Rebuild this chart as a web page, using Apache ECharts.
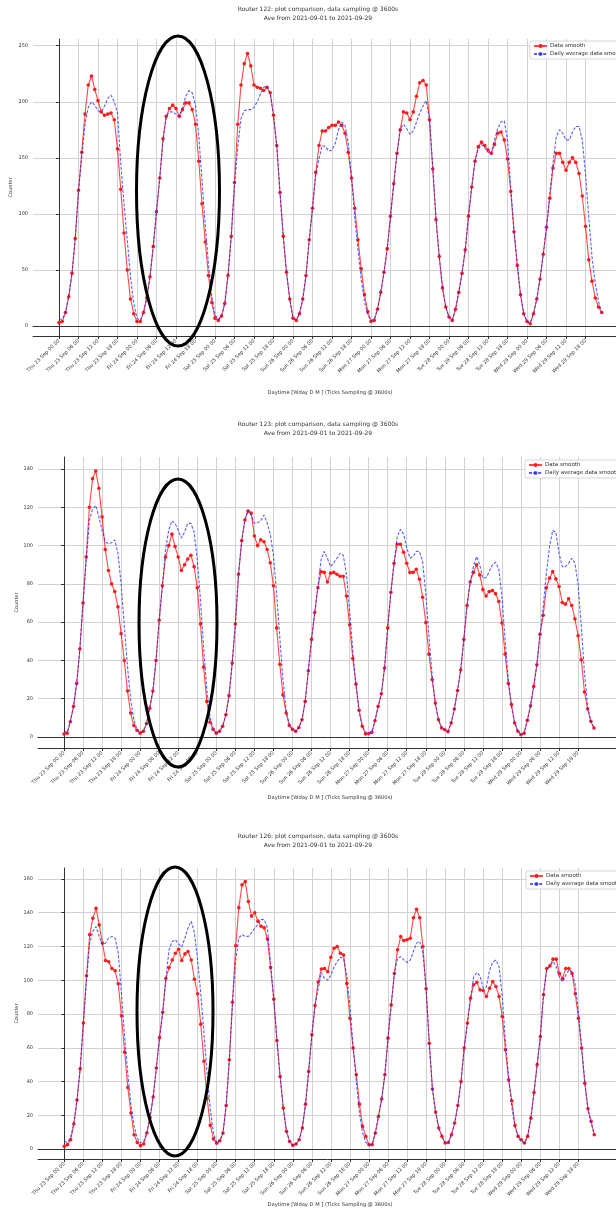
<!DOCTYPE html>
<html>
<head>
<meta charset="utf-8">
<script src="https://cdn.jsdelivr.net/npm/echarts@6/dist/echarts.min.js"></script>
<style>
  html, body { margin: 0; padding: 0; background: #fff; }
  #chart { width: 616px; height: 1211px; }
</style>
</head>
<body>
<div id="chart"></div>
<script>
// hourly samples, Thu 23 Sep 00:00 .. Wed 29 Sep 23:00
const tickHours = [0, 6, 12, 18, 24, 30, 36, 42, 48, 54, 60, 66, 72, 78, 84, 90, 96, 102, 108, 114, 120, 126, 132, 138, 144, 150, 156, 162]
const tickLabels = [
  'Thu 23 Sep 00 00', 'Thu 23 Sep 06 00', 'Thu 23 Sep 12 00', 'Thu 23 Sep 18 00',
  'Fri 24 Sep 00 00', 'Fri 24 Sep 06 00', 'Fri 24 Sep 12 00', 'Fri 24 Sep 18 00',
  'Sat 25 Sep 00 00', 'Sat 25 Sep 06 00', 'Sat 25 Sep 12 00', 'Sat 25 Sep 18 00',
  'Sun 26 Sep 00 00', 'Sun 26 Sep 06 00', 'Sun 26 Sep 12 00', 'Sun 26 Sep 18 00',
  'Mon 27 Sep 00 00', 'Mon 27 Sep 06 00', 'Mon 27 Sep 12 00', 'Mon 27 Sep 18 00',
  'Tue 28 Sep 00 00', 'Tue 28 Sep 06 00', 'Tue 28 Sep 12 00', 'Tue 28 Sep 18 00',
  'Wed 29 Sep 00 00', 'Wed 29 Sep 06 00', 'Wed 29 Sep 12 00', 'Wed 29 Sep 18 00'
]

const r122Smooth = [
  3, 4, 12, 26, 47, 78, 121, 155, 189, 215, 223, 211, 201, 191, 188, 189, 190, 184, 158, 122, 83, 50, 24, 11,
  4, 4, 12, 25, 44, 71, 102, 132, 167, 187, 194, 197, 194, 187, 193, 199, 199, 193, 180, 147, 109, 75, 45, 21,
  7, 5, 9, 20, 45, 80, 128, 180, 215, 234, 243, 232, 215, 213, 212, 210, 213, 208, 188, 161, 119, 80, 48, 24,
  7, 5, 11, 24, 45, 77, 105, 137, 161, 174, 174, 177, 179, 179, 182, 179, 172, 155, 132, 105, 77, 51, 28, 13,
  4, 5, 15, 30, 48, 69, 98, 127, 154, 175, 191, 190, 184, 191, 205, 217, 219, 215, 184, 140, 95, 62, 34, 17,
  8, 5, 15, 30, 47, 68, 98, 124, 147, 160, 164, 161, 157, 154, 162, 172, 173, 166, 149, 120, 84, 54, 28, 11,
  4, 2, 11, 24, 42, 64, 88, 114, 141, 154, 154, 146, 139, 146, 150, 146, 136, 116, 89, 59, 40, 25, 17, 12
]
const r122Daily = [
  6, 6, 12, 27, 47, 78, 120, 150, 180, 195, 200, 197, 192, 191, 196, 203, 206, 200, 190, 145, 109, 77, 44, 20,
  7, 5, 12, 25, 44, 71, 102, 132, 165, 187, 191, 191, 189, 187, 195, 205, 210, 208, 197, 170, 130, 90, 55, 27,
  10, 6, 9, 20, 45, 80, 125, 160, 185, 192, 193, 193, 195, 200, 207, 213, 214, 207, 188, 160, 119, 80, 48, 24,
  7, 6, 11, 24, 45, 77, 105, 135, 149, 161, 160, 156, 157, 163, 175, 182, 179, 163, 133, 97, 68, 41, 22, 10,
  5, 6, 15, 30, 48, 69, 98, 127, 154, 176, 180, 176, 171, 174, 182, 190, 196, 201, 185, 142, 96, 62, 34, 17,
  8, 5, 15, 30, 47, 68, 98, 124, 147, 158, 162, 159, 155, 154, 166, 176, 182, 183, 166, 124, 86, 56, 28, 11,
  4, 3, 11, 24, 42, 64, 88, 118, 145, 169, 175, 172, 166, 166, 173, 178, 178, 166, 136, 97, 62, 38, 22, 12
]

const r123Smooth = [
  1.6, 2, 8, 16, 28, 46, 70, 94, 120, 135, 139, 130, 115, 98, 87, 80, 76, 68, 54, 40, 24, 12.5, 6, 3.5,
  2, 3, 7, 15, 24, 40, 61, 79, 94, 100, 106, 99.5, 94, 87, 90, 93, 95, 89, 78, 59, 36.5, 18.6, 7.7, 4,
  2, 3, 5.6, 11.6, 21.6, 38.6, 59, 85, 102.6, 113.4, 118, 117, 105, 100, 103, 102, 98, 91, 79, 57, 38, 22, 12.5, 6,
  4, 3, 5, 9, 18.6, 34.6, 51, 65, 78, 86.4, 86, 81, 85.6, 86, 85, 84, 84, 73.7, 58.6, 41, 27.6, 14, 5.6, 1.6,
  1.7, 2.4, 8.5, 16, 22.6, 36, 57, 75.6, 90.8, 100.7, 100.7, 96.5, 90.8, 86, 86, 87.6, 82.4, 73, 59.8, 43.3, 30, 17.7, 9, 4.7,
  3.8, 2.8, 7.3, 14.6, 24.3, 35, 51, 68.7, 81, 86, 90, 84.7, 77, 73.7, 76, 76.5, 74.8, 70.8, 59.5, 43.3, 28, 16.9, 7.3, 3,
  1.2, 2, 8.7, 16.3, 26.4, 37.7, 53.7, 63.6, 78, 83, 86.4, 82.6, 78.6, 70.3, 69.4, 72.2, 68.7, 61.7, 52.9, 40.3, 23.5, 14.6, 8.2, 4.7
]
const r123Daily = [
  3, 2.4, 8, 16, 28, 46, 70, 92, 113, 119, 121, 115, 108, 102, 101, 101.5, 103, 96, 80, 58, 37, 19.5, 9, 4,
  2.4, 3, 7, 15, 24, 40, 61, 79, 98, 108, 113, 111.6, 108, 104, 107, 111.6, 111.6, 107, 92.5, 71.6, 47, 24.7, 10.8, 4,
  2, 3, 5.6, 11.6, 21.6, 38.6, 59, 85, 102.6, 113.4, 118.6, 116, 111.6, 112, 113, 116, 112, 106, 95, 75, 52, 30, 14, 6.4,
  4, 3, 5, 9, 18.6, 34.6, 51, 65, 78.6, 92.5, 97, 93.4, 89, 91, 93.4, 96, 95, 85, 66, 45, 27, 13, 5.6, 2.5,
  2.4, 2.4, 8.5, 16, 22.6, 36, 57, 75.6, 90.8, 104.7, 108.5, 106, 99, 93.4, 94.3, 97, 97, 91.6, 75, 52.5, 32.5, 17.7, 9, 5,
  3.8, 2.8, 7.3, 14.6, 24.3, 35, 51, 68.7, 81, 89, 94.3, 90, 83, 83.3, 86.4, 90, 91.3, 88, 73.4, 50.8, 30, 16, 7.3, 3.3,
  1.2, 2, 8.7, 16.3, 26.4, 37.7, 53.7, 68, 85.6, 99.5, 108, 106.8, 96, 89, 89, 90.8, 93.4, 90.8, 79.5, 57.7, 33.4, 16, 8.2, 4.7
]

const r126Smooth = [
  1.6, 2.6, 5.5, 14.8, 29, 47.5, 74.6, 102.6, 127, 136.7, 142.6, 132.8, 122, 111.7, 111, 107, 105.6, 97.9, 79, 57.4, 36.5, 21.3, 8.5, 3.9,
  2, 3, 9.5, 18.7, 30.8, 48, 66, 81, 101, 107.5, 112, 116, 118.4, 111.7, 115.6, 117, 112, 100.6, 92, 74, 52, 30, 14, 6,
  3.5, 4.9, 9.5, 25.8, 52.9, 87, 120.4, 143, 156.5, 158.4, 146.6, 138, 140, 135, 132, 131, 124.5, 107.5, 88.8, 64.3, 43, 24.3, 10.5, 4.5,
  2.2, 3, 5.5, 12.4, 26.6, 46, 67.7, 85, 99, 106.7, 107, 105, 113.6, 119, 120, 116, 115, 98, 77.5, 59.8, 44, 26.6, 13.4, 7.5,
  2.6, 2.6, 9.5, 19.3, 29.6, 44, 65.7, 85.4, 104, 118, 125.9, 123.5, 124, 124.9, 137, 142, 137, 120, 95, 62.7, 35.5, 21.9, 12.4, 7.5,
  3.6, 3.9, 8.5, 15.4, 25.8, 40, 59.8, 74.6, 89.4, 97.3, 98.8, 94.3, 93.9, 90.4, 95.3, 99.2, 96.3, 90.4, 78.5, 58.8, 41, 28.6, 14, 7.5,
  5.5, 3.6, 7.5, 18.3, 33.5, 50, 66.7, 91.4, 107, 108.5, 112.5, 112.5, 104, 101, 107, 107, 104, 92, 77.5, 59.8, 39, 23.9, 16.4, 8.5
]
const r126Daily = [
  4.5, 4, 7, 15, 29, 47.5, 74.6, 100, 122, 129, 131.8, 126, 121, 122, 125, 126, 125, 116, 92, 66.7, 45, 26, 13.4, 6.5,
  3.5, 4.5, 9.5, 18.7, 30.8, 48, 66, 81, 101, 118, 123, 124, 121.5, 119.6, 125, 131, 135, 128, 112, 92, 68.7, 45, 23.3, 9.5,
  3.5, 4.9, 9.5, 25.8, 52.9, 87, 112, 125, 127, 126, 126, 128, 131, 133, 136, 136, 131, 110, 89, 64.3, 43, 24.3, 10.5, 4.5,
  2.2, 3, 5.5, 12.4, 26.6, 46, 67.7, 85, 95, 104.6, 101, 100, 103, 108, 111, 113.6, 113, 103, 84.4, 60.8, 40, 21.3, 9.5, 4,
  2.6, 2.6, 9.5, 19.3, 29.6, 44, 65.7, 85.4, 104, 113, 114, 112, 110.5, 112, 117, 122, 123, 116, 95, 62.7, 35.5, 21.9, 12.4, 7.5,
  3.6, 3.9, 8.5, 15.4, 25.8, 40, 59.8, 74.6, 89.4, 102, 104.6, 102.6, 95.3, 96, 106, 110.7, 112, 108, 90.4, 63.7, 43, 25, 13.4, 6.5,
  4.5, 3.6, 7.5, 18.3, 33.5, 50, 66.7, 92.3, 106, 108.5, 111, 108, 102, 99, 103, 106, 105, 97, 81.5, 60.8, 40, 23.3, 15.4, 8.5
]

const yTicks122 = [0, 50, 100, 150, 200, 250]
const yTicks123 = [0, 20, 40, 60, 80, 100, 120, 140]
const yTicks126 = [0, 20, 40, 60, 80, 100, 120, 140, 160]

const FONT = 'DejaVu Sans'
const XNAME = 'Daytime [Wday D M ] (Ticks Sampling @ 3600s)'
const SUB = 'Ave from 2021-09-01 to 2021-09-29'

// one panel per router
const panels = [
  { name: 'Router 122', smooth: r122Smooth, daily: r122Daily, yTicks: yTicks122,
    grid: { left: 33, top: 39, width: 607, height: 297 }, x: [-8, 178.77], y: [-8.9, 256], nameGap: 20,
    titleY: 14, xNameY: 393, legend: { left: 530, top: 41 }, ellipse: [178, 191, 41.5, 155] },
  { name: 'Router 123', smooth: r123Smooth, daily: r123Daily, yTicks: yTicks123,
    grid: { left: 38, top: 457, width: 602, height: 291 }, x: [-8.19, 181.5], y: [-5.75, 146.3], nameGap: 19,
    titleY: 429, xNameY: 798, legend: { left: 525, top: 460 }, ellipse: [178, 623, 39, 144] },
  { name: 'Router 126', smooth: r126Smooth, daily: r126Daily, yTicks: yTicks126,
    grid: { left: 38, top: 868, width: 602, height: 291 }, x: [-8.29, 181.4], y: [-5.9, 166.5], nameGap: 19,
    titleY: 841, xNameY: 1205, legend: { left: 526, top: 871 }, ellipse: [175, 1011.5, 38, 144.5] }
]

const grids = [], xAxes = [], yAxes = [], series = [], legends = [], graphics = []
panels.forEach((p, i) => {
  grids.push(Object.assign({ outerBoundsMode: 'none' }, p.grid))
  xAxes.push({
    type: 'value', gridIndex: i, min: p.x[0], max: p.x[1],
    axisLine: { show: true, onZero: false, lineStyle: { color: '#333', width: 1 } },
    axisTick: { show: true, customValues: tickHours, length: 3, lineStyle: { color: '#333' } },
    axisLabel: {
      customValues: tickHours, rotate: 45, fontSize: 5, color: '#333', margin: 4, fontFamily: FONT,
      formatter: v => tickLabels[tickHours.indexOf(v)] || ''
    },
    splitLine: { show: true, lineStyle: { color: '#d2d2d2', width: 1 } }
  })
  // top spine
  xAxes.push({
    type: 'value', gridIndex: i, position: 'top', min: p.x[0], max: p.x[1],
    axisLine: { show: true, lineStyle: { color: '#333', width: 1 } },
    axisTick: { show: false }, axisLabel: { show: false }, splitLine: { show: false }
  })
  yAxes.push({
    type: 'value', gridIndex: i, min: p.y[0], max: p.y[1],
    name: 'Counter', nameLocation: 'middle', nameGap: p.nameGap, nameMoveOverlap: false,
    nameTextStyle: { fontSize: 5, color: '#333', fontFamily: FONT },
    axisLine: { show: true, lineStyle: { color: '#333', width: 1 } },
    axisTick: { show: true, customValues: p.yTicks, length: 3, lineStyle: { color: '#333' } },
    axisLabel: { customValues: p.yTicks, fontSize: 5, color: '#333', margin: 5, fontFamily: FONT },
    splitLine: { show: true, lineStyle: { color: '#d2d2d2', width: 1 } }
  })
  series.push({
    name: 'Data smooth', type: 'line', xAxisIndex: i * 2, yAxisIndex: i,
    data: p.smooth.map((v, h) => [h, v]),
    symbol: 'circle', symbolSize: 3.6, showSymbol: true,
    lineStyle: { color: 'rgba(255,0,0,0.72)', width: 1.1 },
    itemStyle: { color: '#ff1a1a' },
    animation: false, z: 3
  })
  series.push({
    name: 'Daily average data smooth', type: 'line', xAxisIndex: i * 2, yAxisIndex: i,
    data: p.daily.map((v, h) => [h, v]),
    showSymbol: false, symbol: 'none',
    lineStyle: { color: 'rgba(30,30,255,0.72)', width: 1.1, type: [3, 1.6] },
    itemStyle: { color: 'rgba(30,30,255,0.72)' },
    animation: false, z: 4
  })
  legends.push({
    left: p.legend.left, top: p.legend.top, orient: 'vertical',
    data: ['Data smooth', 'Daily average data smooth'],
    itemWidth: 13, itemHeight: 5, itemGap: 2, padding: [2, 3, 2, 3],
    backgroundColor: '#fff', borderColor: '#cccccc', borderWidth: 0.8, borderRadius: 2,
    textStyle: { fontSize: 5.5, color: '#333', fontFamily: FONT, padding: [0, 0, 0, -2] },
    selectedMode: false
  })
  graphics.push({
    type: 'text', x: 318, y: p.titleY,
    style: { text: p.name + ': plot comparison, data sampling @ 3600s\n' + SUB, textAlign: 'center',
      textVerticalAlign: 'middle', fontSize: 6, lineHeight: 8.5, fill: '#333', fontFamily: FONT }
  })
  graphics.push({
    type: 'text', x: 330, y: p.xNameY,
    style: { text: XNAME, textAlign: 'center', textVerticalAlign: 'middle', fontSize: 5.2, fill: '#333', fontFamily: FONT }
  })
  graphics.push({
    type: 'ellipse', z: 100,
    shape: { cx: p.ellipse[0], cy: p.ellipse[1], rx: p.ellipse[2], ry: p.ellipse[3] },
    style: { fill: 'none', stroke: '#000', lineWidth: 3 }
  })
})

const chart = echarts.init(document.getElementById('chart'), null, { renderer: 'canvas' })
chart.setOption({
  animation: false,
  backgroundColor: '#fff',
  grid: grids,
  xAxis: xAxes,
  yAxis: yAxes,
  legend: legends,
  series: series,
  graphic: graphics
})
</script>
</body>
</html>
